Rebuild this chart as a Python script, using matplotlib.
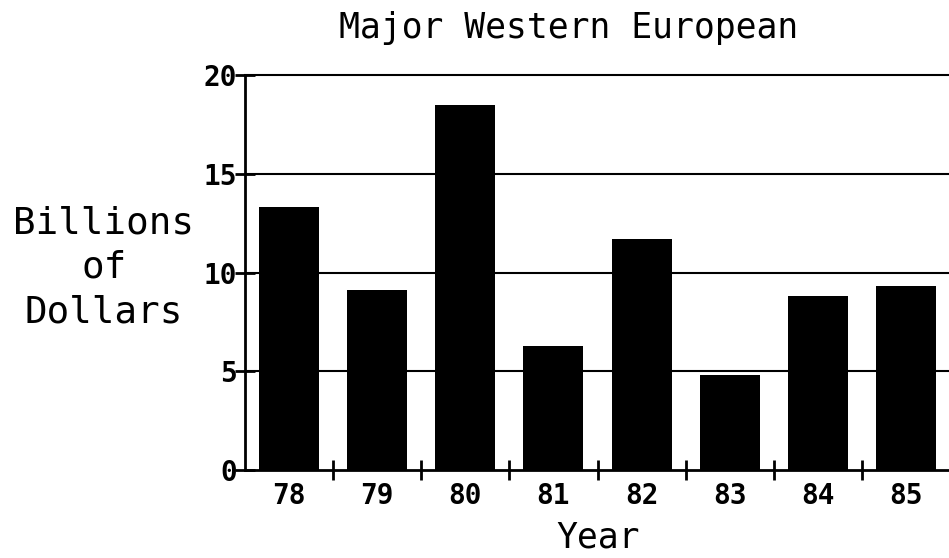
import matplotlib
matplotlib.use("Agg")
import matplotlib.pyplot as plt
import numpy as np

years = ["78", "79", "80", "81", "82", "83", "84", "85"]
values = [13.3, 9.1, 18.5, 6.3, 11.7, 4.8, 8.8, 9.3]
yticks = [0, 5, 10, 15, 20]

W, H = 949, 558
fig = plt.figure(figsize=(W / 100, H / 100), dpi=100)
ax = fig.add_axes([245 / W, 1 - 470 / H, 705 / W, (470 - 75) / H])

x = np.arange(len(years))
ax.bar(x, values, width=0.68, color="black", zorder=3)

ax.set_xlim(-0.5, len(years) - 0.5)
ax.set_ylim(0, 20)

for v in yticks[1:-1]:
    ax.axhline(v, color="black", lw=1.5, zorder=2)

ax.spines["right"].set_visible(False)
ax.spines["top"].set_linewidth(1.5)
ax.spines["left"].set_linewidth(2)
ax.spines["bottom"].set_linewidth(2)

mono = "DejaVu Sans Mono"
ax.set_yticks(yticks)
ax.set_yticklabels([str(v) for v in yticks], fontfamily=mono, fontweight="bold", fontsize=20)
ax.tick_params(axis="y", direction="inout", length=14, width=2, pad=-1)

ax.set_xticks(x)
ax.set_xticklabels(years, fontfamily=mono, fontweight="bold", fontsize=20)
ax.set_xticks(np.arange(0.5, len(years) - 0.5, 1), minor=True)
ax.tick_params(axis="x", which="major", length=0, pad=9)
ax.tick_params(axis="x", which="minor", direction="inout", length=15, width=2)

fig.text(569 / W, 1 - 28 / H, "Major Western European", ha="center", va="center",
         fontfamily=mono, fontsize=25)
fig.text(598 / W, 1 - 537 / H, "Year", ha="center", va="center",
         fontfamily=mono, fontsize=25)
fig.text(104 / W, 1 - 268 / H, "Billions\nof\nDollars", ha="center", va="center",
         multialignment="center", fontfamily=mono, fontsize=27, linespacing=1.3)

fig.savefig("out.png", dpi=100)
